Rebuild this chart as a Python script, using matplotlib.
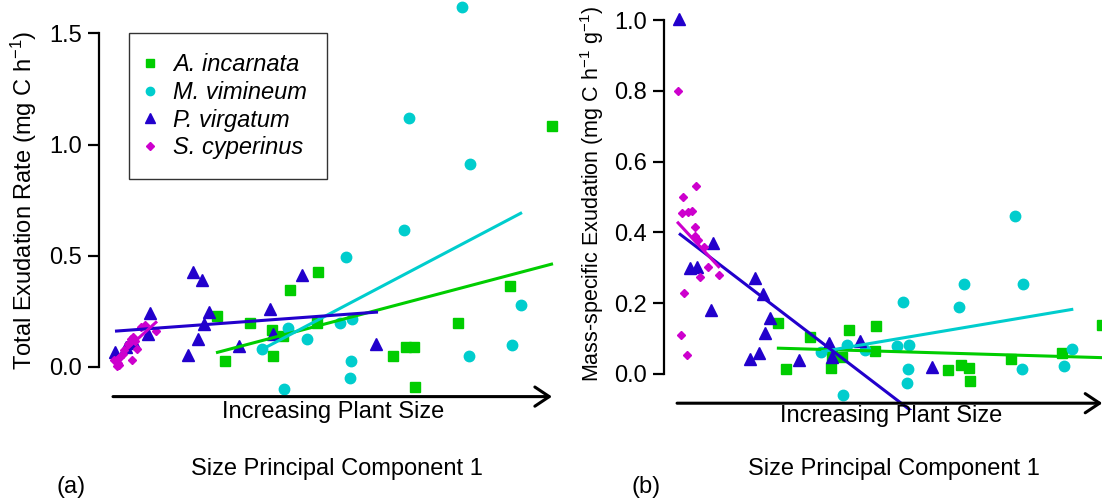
import matplotlib
matplotlib.use("Agg")
import matplotlib.pyplot as plt
from matplotlib.lines import Line2D

plt.rcParams["font.family"] = ["Liberation Sans", "DejaVu Sans"]
plt.rcParams["mathtext.fontset"] = "custom"
plt.rcParams["mathtext.rm"] = "Liberation Sans"
plt.rcParams["mathtext.it"] = "Liberation Sans:italic"

# ---- data: size PC1, total exudation (a), mass-specific exudation (b) ----
ainc_pc1 = [-0.83, -0.75, -0.50, -0.28, -0.27, -0.17, -0.10, 0.17, 0.18,
            0.93, 1.06, 1.14, 1.15, 1.58, 2.10, 2.52]
ainc_tot = [0.228, 0.028, 0.198, 0.168, 0.048, 0.138, 0.347, 0.198, 0.426,
            0.048, 0.088, 0.088, -0.090, 0.198, 0.366, 1.082]
ainc_mass = [0.145, 0.014, 0.105, 0.016, 0.050, 0.049, 0.124, 0.066, 0.136,
             0.011, 0.025, 0.018, -0.019, 0.041, 0.058, 0.138]

mvim_pc1 = [-0.38, -0.16, -0.12, 0.07, 0.40, 0.46, 0.50, 0.51, 0.52,
            1.04, 1.09, 1.62, 1.69, 1.70, 2.12, 2.21]
mvim_tot = [0.079, -0.100, 0.177, 0.128, 0.198, 0.494, -0.050, 0.028, 0.216,
            0.615, 1.120, 1.616, 0.048, 0.912, 0.097, 0.277]
mvim_mass = [0.061, -0.059, 0.082, 0.068, 0.080, 0.204, -0.025, 0.013, 0.082,
             0.190, 0.253, 0.446, 0.013, 0.254, 0.023, 0.071]

pvir_pc1 = [-1.85, -1.74, -1.66, -1.52, -1.50, -1.12, -1.07, -1.02, -0.98,
            -0.96, -0.91, -0.61, -0.30, -0.27, 0.02, 0.76]
pvir_tot = [0.068, 0.090, 0.110, 0.150, 0.242, 0.054, 0.426, 0.124, 0.391,
            0.195, 0.245, 0.094, 0.262, 0.147, 0.415, 0.103]
pvir_mass = [1.003, 0.299, 0.303, 0.181, 0.371, 0.042, 0.270, 0.058, 0.226,
             0.115, 0.157, 0.040, 0.088, 0.049, 0.093, 0.021]

scyp_pc1 = [-1.86, -1.83, -1.82, -1.81, -1.80, -1.77, -1.76, -1.72, -1.69,
            -1.68, -1.67, -1.65, -1.63, -1.59, -1.55, -1.44]
scyp_tot = [0.030, 0.005, 0.020, 0.010, 0.045, 0.060, 0.075, 0.105, 0.125,
            0.030, 0.135, 0.115, 0.080, 0.180, 0.190, 0.160]
scyp_mass = [0.800, 0.110, 0.454, 0.499, 0.230, 0.054, 0.458, 0.461, 0.414,
             0.390, 0.531, 0.379, 0.275, 0.360, 0.301, 0.280]

# fitted lines (end points)
fit_ainc_x, fit_ainc_tot, fit_ainc_mass = [-0.84, 2.53], [0.064, 0.464], [0.073, 0.046]
fit_mvim_x, fit_mvim_tot, fit_mvim_mass = [-0.38, 2.22], [0.079, 0.694], [0.063, 0.183]
fit_pvir_x, fit_pvir_tot, fit_pvir_mass = [-1.85, 0.78], [0.161, 0.247], [0.397, -0.153]
fit_scyp_x, fit_scyp_tot, fit_scyp_mass = [-1.87, -1.43], [0.025, 0.205], [0.430, 0.300]

species = ["A. incarnata", "M. vimineum", "P. virgatum", "S. cyperinus"]
colors = ["#00CD00", "#00CDCD", "#2200CC", "#CD00CD"]
markers = ["s", "o", "^", "D"]
msizes = [7.7, 7.5, 8.8, 4.5]

pc1 = [ainc_pc1, mvim_pc1, pvir_pc1, scyp_pc1]
tot = [ainc_tot, mvim_tot, pvir_tot, scyp_tot]
mass = [ainc_mass, mvim_mass, pvir_mass, scyp_mass]
fits = [(fit_ainc_x, fit_ainc_tot, fit_ainc_mass),
        (fit_mvim_x, fit_mvim_tot, fit_mvim_mass),
        (fit_pvir_x, fit_pvir_tot, fit_pvir_mass),
        (fit_scyp_x, fit_scyp_tot, fit_scyp_mass)]

W, H = 1102, 498
fig = plt.figure(figsize=(W / 100, H / 100), dpi=100)


def px_axes(x0, x1, ytop, ybot):
    return fig.add_axes([x0 / W, 1 - ybot / H, (x1 - x0) / W, (ybot - ytop) / H])


ax_a = px_axes(99, 569.5, -9.0, 404.8)
ax_b = px_axes(663.5, 1119.3, 3.9, 409.9)

for ax, yvals, fidx in ((ax_a, tot, 1), (ax_b, mass, 2)):
    for i in range(4):
        ax.plot(pc1[i], yvals[i], linestyle="none", marker=markers[i],
                ms=msizes[i], color=colors[i], mec=colors[i], zorder=2)
    for i in range(4):
        ax.plot(fits[i][0], fits[i][fidx], color=colors[i], lw=2.2,
                solid_capstyle="butt", zorder=3)
    ax.set_xlim(-2.01, 2.695)
    for s in ("top", "right", "bottom"):
        ax.spines[s].set_visible(False)
    ax.spines["left"].set_linewidth(1.6)
    ax.set_xticks([])
    ax.tick_params(axis="y", length=8, width=1.6, labelsize=17, pad=4)
    ax.patch.set_alpha(0)

ax_a.set_ylim(-0.17, 1.69)
ax_a.set_yticks([0.0, 0.5, 1.0, 1.5])
ax_a.set_yticklabels(["0.0", "0.5", "1.0", "1.5"])
ax_a.spines["left"].set_bounds(0, 1.5)

ax_b.set_ylim(-0.1015, 1.0455)
ax_b.set_yticks([0.0, 0.2, 0.4, 0.6, 0.8, 1.0])
ax_b.set_yticklabels(["0.0", "0.2", "0.4", "0.6", "0.8", "1.0"])
ax_b.spines["left"].set_bounds(0, 1.0)

# "Increasing Plant Size" arrows
for ax, yfrac in ((ax_a, 0.0198), (ax_b, 0.0165)):
    tr = ax.get_xaxis_transform()
    ax.annotate("", xy=(2.52, yfrac), xytext=(-1.87, yfrac),
                xycoords=tr, textcoords=tr, annotation_clip=False,
                arrowprops=dict(arrowstyle="->, head_length=0.45, head_width=0.3",
                                lw=2.2, color="black", mutation_scale=23,
                                shrinkA=0, shrinkB=0))

fig.text(333 / W, 1 - 412 / H, "Increasing Plant Size", fontsize=17,
         ha="center", va="center")
fig.text(891 / W, 1 - 416 / H, "Increasing Plant Size", fontsize=17,
         ha="center", va="center")
fig.text(337 / W, 1 - 469 / H, "Size Principal Component 1", fontsize=17,
         ha="center", va="center")
fig.text(894 / W, 1 - 469 / H, "Size Principal Component 1", fontsize=17,
         ha="center", va="center")
fig.text(71 / W, 1 - 487 / H, "(a)", fontsize=17, ha="center", va="center")
fig.text(646 / W, 1 - 487 / H, "(b)", fontsize=17, ha="center", va="center")

fig.text(24 / W, 1 - 200 / H, r"Total Exudation Rate (mg C h$^{-1}$)",
         fontsize=17, rotation=90, ha="center", va="center")
fig.text(592 / W, 1 - 194 / H, r"Mass-specific Exudation (mg C h$^{-1}$ g$^{-1}$)",
         fontsize=15.5, rotation=90, ha="center", va="center")

handles = [Line2D([], [], linestyle="none", marker=markers[i], ms=msizes[i],
                  color=colors[i], mec=colors[i]) for i in range(4)]
leg = ax_a.legend(handles, species, loc="upper left",
                  bbox_to_anchor=(129 / W, 1 - 33 / H),
                  bbox_transform=fig.transFigure, borderaxespad=0,
                  fancybox=False, framealpha=1, edgecolor="#333333",
                  prop={"size": 17, "style": "italic"}, markerscale=0.8,
                  handlelength=0.1, handletextpad=0.9, borderpad=0.85,
                  labelspacing=0.2)
leg.get_frame().set_linewidth(1.0)

fig.savefig("out.png", dpi=100)
